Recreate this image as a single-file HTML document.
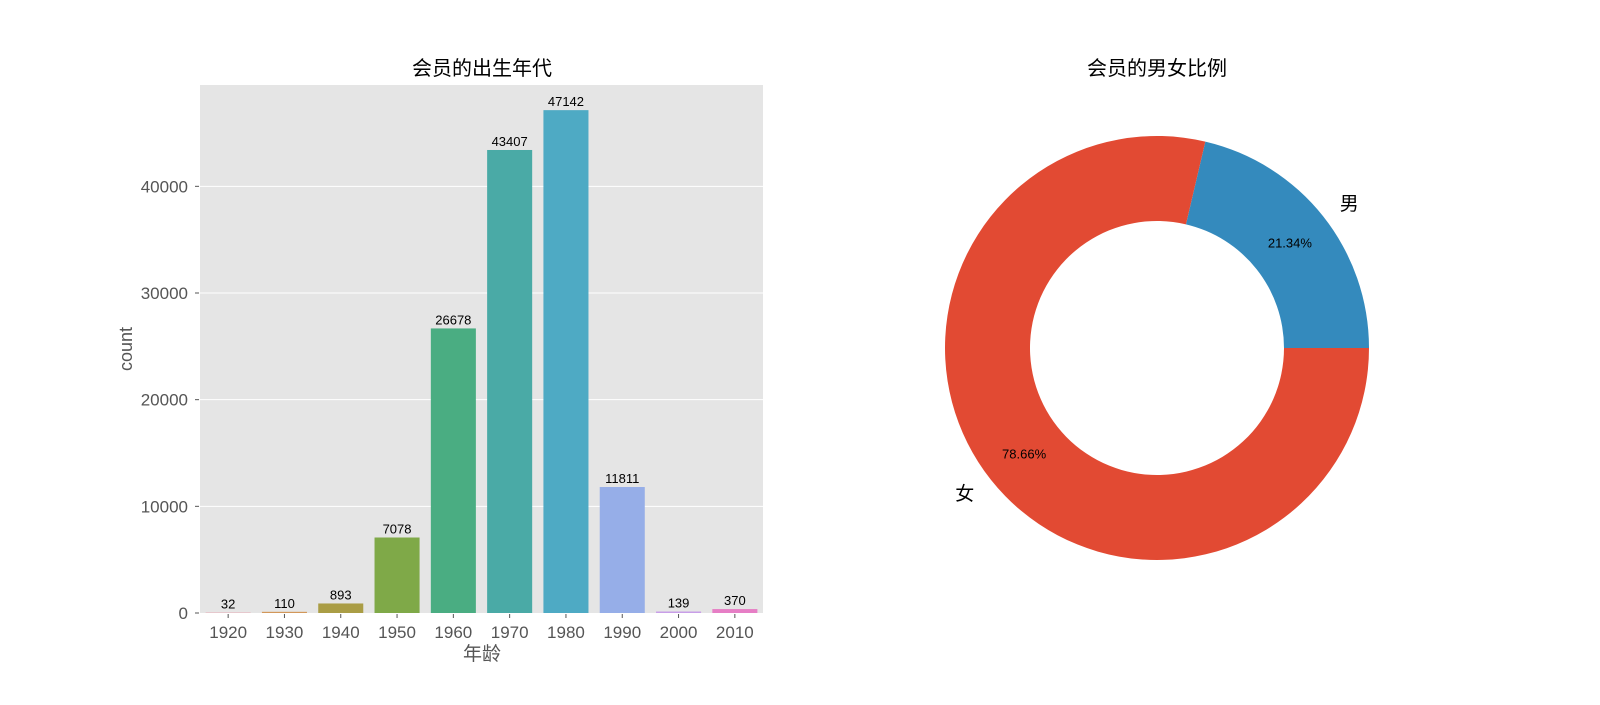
<!DOCTYPE html>
<html><head><meta charset="utf-8"><style>
body{margin:0;background:#fff;}
svg text{font-family:"Liberation Sans","Noto Sans CJK SC",sans-serif;}
</style></head><body>
<svg id="c" width="1600" height="700" xmlns="http://www.w3.org/2000/svg">
<rect x="200" y="85" width="563" height="528" fill="#e5e5e5"/>
<g id="grid"></g><g id="bars"></g><g id="ticks"></g>
<text x="482" y="75" font-size="20" text-anchor="middle" fill="#000">会员的出生年代</text>
<text x="482" y="660" font-size="19" text-anchor="middle" fill="#555">年龄</text>
<text transform="translate(132,349) rotate(-90)" font-size="18" text-anchor="middle" fill="#555">count</text>
<g id="pie"></g>
<text x="1157" y="75" font-size="20" text-anchor="middle" fill="#000">会员的男女比例</text>
</svg>
<script>
const categories=['1920','1930','1940','1950','1960','1970','1980','1990','2000','2010'];
const counts=[32,110,893,7078,26678,43407,47142,11811,139,370];
const colors=['#e8909e','#d2975a','#aa9d45','#7fa948','#4aad82','#4aaaa6','#4eaac4','#96aee8','#c89ee8','#e67ec5'];
const yTicks=[0,10000,20000,30000,40000];
const pieLabels=['男','女'];
const pieValues=[21.34,78.66];
const pieColors=['#348abd','#e24a33'];
const NS='http://www.w3.org/2000/svg';
function mk(t,a,p){const e=document.createElementNS(NS,t);for(const k in a)e.setAttribute(k,a[k]);p.appendChild(e);return e;}
const x0=200,x1=763,y0=613,y1=85;
const ymax=Math.max(...counts)*1.05;
const ys=v=>y0-(v/ymax)*(y0-y1);
const step=(x1-x0)/categories.length;
const xs=i=>x0+step*(i+0.5);
const grid=document.getElementById('grid'),bars=document.getElementById('bars'),ticks=document.getElementById('ticks');
yTicks.forEach(v=>{
 if(v>0){const l=mk('line',{x1:x0,x2:x1,y1:ys(v),y2:ys(v),stroke:'#fff','stroke-width':1},grid);
 
 }
 const t=mk('text',{x:x0-12,y:ys(v)+6,'font-size':17,'text-anchor':'end',fill:'#555'},ticks);t.textContent=v;
 
 
 const tk=mk('line',{x1:x0-5,x2:x0-1,y1:ys(v),y2:ys(v),stroke:'#555'},ticks);
 
 
});
const bw=step*0.8;
categories.forEach((c,i)=>{
 const r=mk('rect',{x:xs(i)-bw/2,y:ys(counts[i]),width:bw,height:y0-ys(counts[i]),fill:colors[i]},bars);
 
 
 const lt=mk('text',{x:xs(i),y:ys(counts[i])-4,'font-size':13,'text-anchor':'middle',fill:'#000'},bars);lt.textContent=counts[i];
 
 
 const tk=mk('line',{x1:xs(i),x2:xs(i),y1:y0+1,y2:y0+5,stroke:'#555'},ticks);
 
 
 const t=mk('text',{x:xs(i),y:y0+25,'font-size':17,'text-anchor':'middle',fill:'#555'},ticks);t.textContent=c;
 
 
});
const pie=document.getElementById('pie');
const cx=1157,cy=348,R=212,r0=127;
const tot=pieValues.reduce((a,b)=>a+b,0);
let a=0;
pieValues.forEach((v,i)=>{
 const a2=a+v/tot*2*Math.PI;
 const P=(rad,ang)=>[cx+rad*Math.cos(ang),cy-rad*Math.sin(ang)];
 const [ax,ay]=P(R,a),[bx,by]=P(R,a2),[cx2,cy2]=P(r0,a2),[dx,dy]=P(r0,a);
 const lg=(a2-a)>Math.PI?1:0;
 const p=mk('path',{d:`M${ax},${ay} A${R},${R} 0 ${lg} 0 ${bx},${by} L${cx2},${cy2} A${r0},${r0} 0 ${lg} 1 ${dx},${dy} Z`,fill:pieColors[i]},pie);
 
 
 const m=(a+a2)/2;
 const [lx,ly]=P(R*1.1,m);
 const lt=mk('text',{x:lx,y:ly+7,'font-size':19,'text-anchor':Math.cos(m)>=0?'start':'end',fill:'#000'},pie);lt.textContent=pieLabels[i];
 
 
 const [px,py]=P(R*0.8,m);
 const pt=mk('text',{x:px,y:py+5,'font-size':13,'text-anchor':'middle',fill:'#000'},pie);pt.textContent=v.toFixed(2)+'%';
 
 
 a=a2;
});
</script>
</body></html>
